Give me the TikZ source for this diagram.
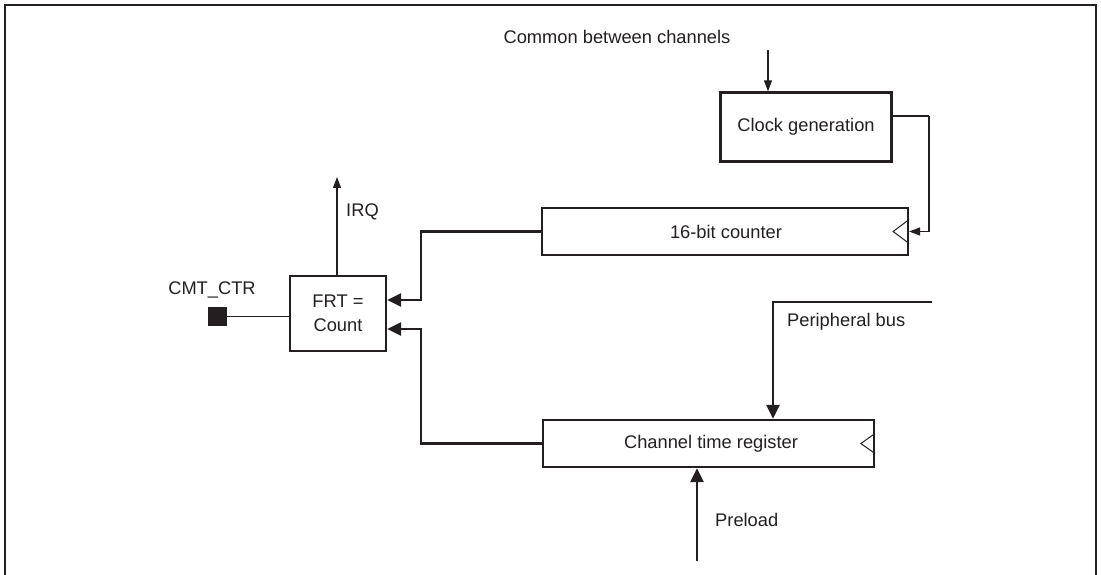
\documentclass[tikz,border=0pt]{standalone}
\usepackage{fontspec}
\setmainfont{Liberation Sans}
\usetikzlibrary{arrows.meta,calc}
\definecolor{ink}{HTML}{231F20}
\tikzset{
  blk/.style={draw=ink, line width=2.2pt, rectangle, inner sep=0pt, text=ink},
  lbl/.style={inner sep=0pt, text=ink},
  thin/.style={draw=ink, line width=1.1pt},
  thinarr/.style={thin, -{Triangle[length=11pt,width=8pt]}},
  bus/.style={draw=ink, line width=2.6pt},
  busarr/.style={bus, -{Triangle[length=14pt,width=13pt]}},
}
\begin{document}
\begin{tikzpicture}[x=1pt,y=-1pt,font=\fontsize{18.3}{24}\selectfont]
\useasboundingbox (0,0) rectangle (1101,575);
% frame
\draw[ink, line width=2pt] (4.5,575) -- (4.5,5.5) -- (1096,5.5) -- (1096,575);

% blocks
\node[blk, minimum width=171pt, minimum height=69pt] (clk) at (806,127) {Clock generation};
\node[blk, minimum width=366pt, minimum height=47pt] (cnt) at (725,231.5) {};
\node[lbl] (cntt) at (726,232) {16-bit counter};
\node[blk, minimum width=96pt, minimum height=75pt, align=center] (frt) at (338,313.5) {FRT =\\Count};
\node[blk, minimum width=331pt, minimum height=47pt] (ctr) at (708.3,443.5) {};
\node[lbl] (ctrt) at (711,444) {Channel time register};
\node[fill=ink, minimum size=19pt, inner sep=0pt] (sq) at (217.5,316.5) {};

% labels
\node[lbl] (common) at (617,37) {Common between channels};
\node[lbl, anchor=west] (irql) at (346,212) {IRQ};
\node[lbl] (cmtl) at (212,290) {CMT\_CTR};
\node[lbl, anchor=west] (pbl) at (787,322) {Peripheral bus};
\node[lbl, anchor=west] (prel) at (715,520) {Preload};

% clock triangles
\draw[thin, line width=1pt, line join=miter] ($(cnt.east)+(0,-12)$) -- ++(-16,12) -- ++(16,12);
\draw[thin, line width=1pt, line join=miter] ($(ctr.east)+(0,-10)$) -- ++(-14,10) -- ++(14,10);

% connectors
\coordinate (cin) at (768,50);
\draw[thinarr] (cin) -- (clk.north -| cin);

\coordinate (c1) at (929,116);
\draw[thin] (clk.east |- c1) -- (c1);
\draw[thinarr] (c1) |- (cnt.east);

\coordinate (irq) at (337,177);
\draw[thinarr] (frt.north -| irq) -- (irq);

\draw[thin] (sq.east) -- (frt.west |- sq.east);

\coordinate (j1) at (421,300);
\draw[busarr] (cnt.west) -| (j1) -- (frt.east |- j1);
\coordinate (j2) at (421,329);
\draw[busarr] (ctr.west) -| (j2) -- (frt.east |- j2);

\coordinate (pb) at (932,302);
\coordinate (pbx) at (773,302);
\draw[busarr] (pb) -- (pbx) -- (ctr.north -| pbx);

\coordinate (pl) at (697,561);
\draw[busarr] (pl) -- (ctr.south -| pl);
\end{tikzpicture}
\end{document}
